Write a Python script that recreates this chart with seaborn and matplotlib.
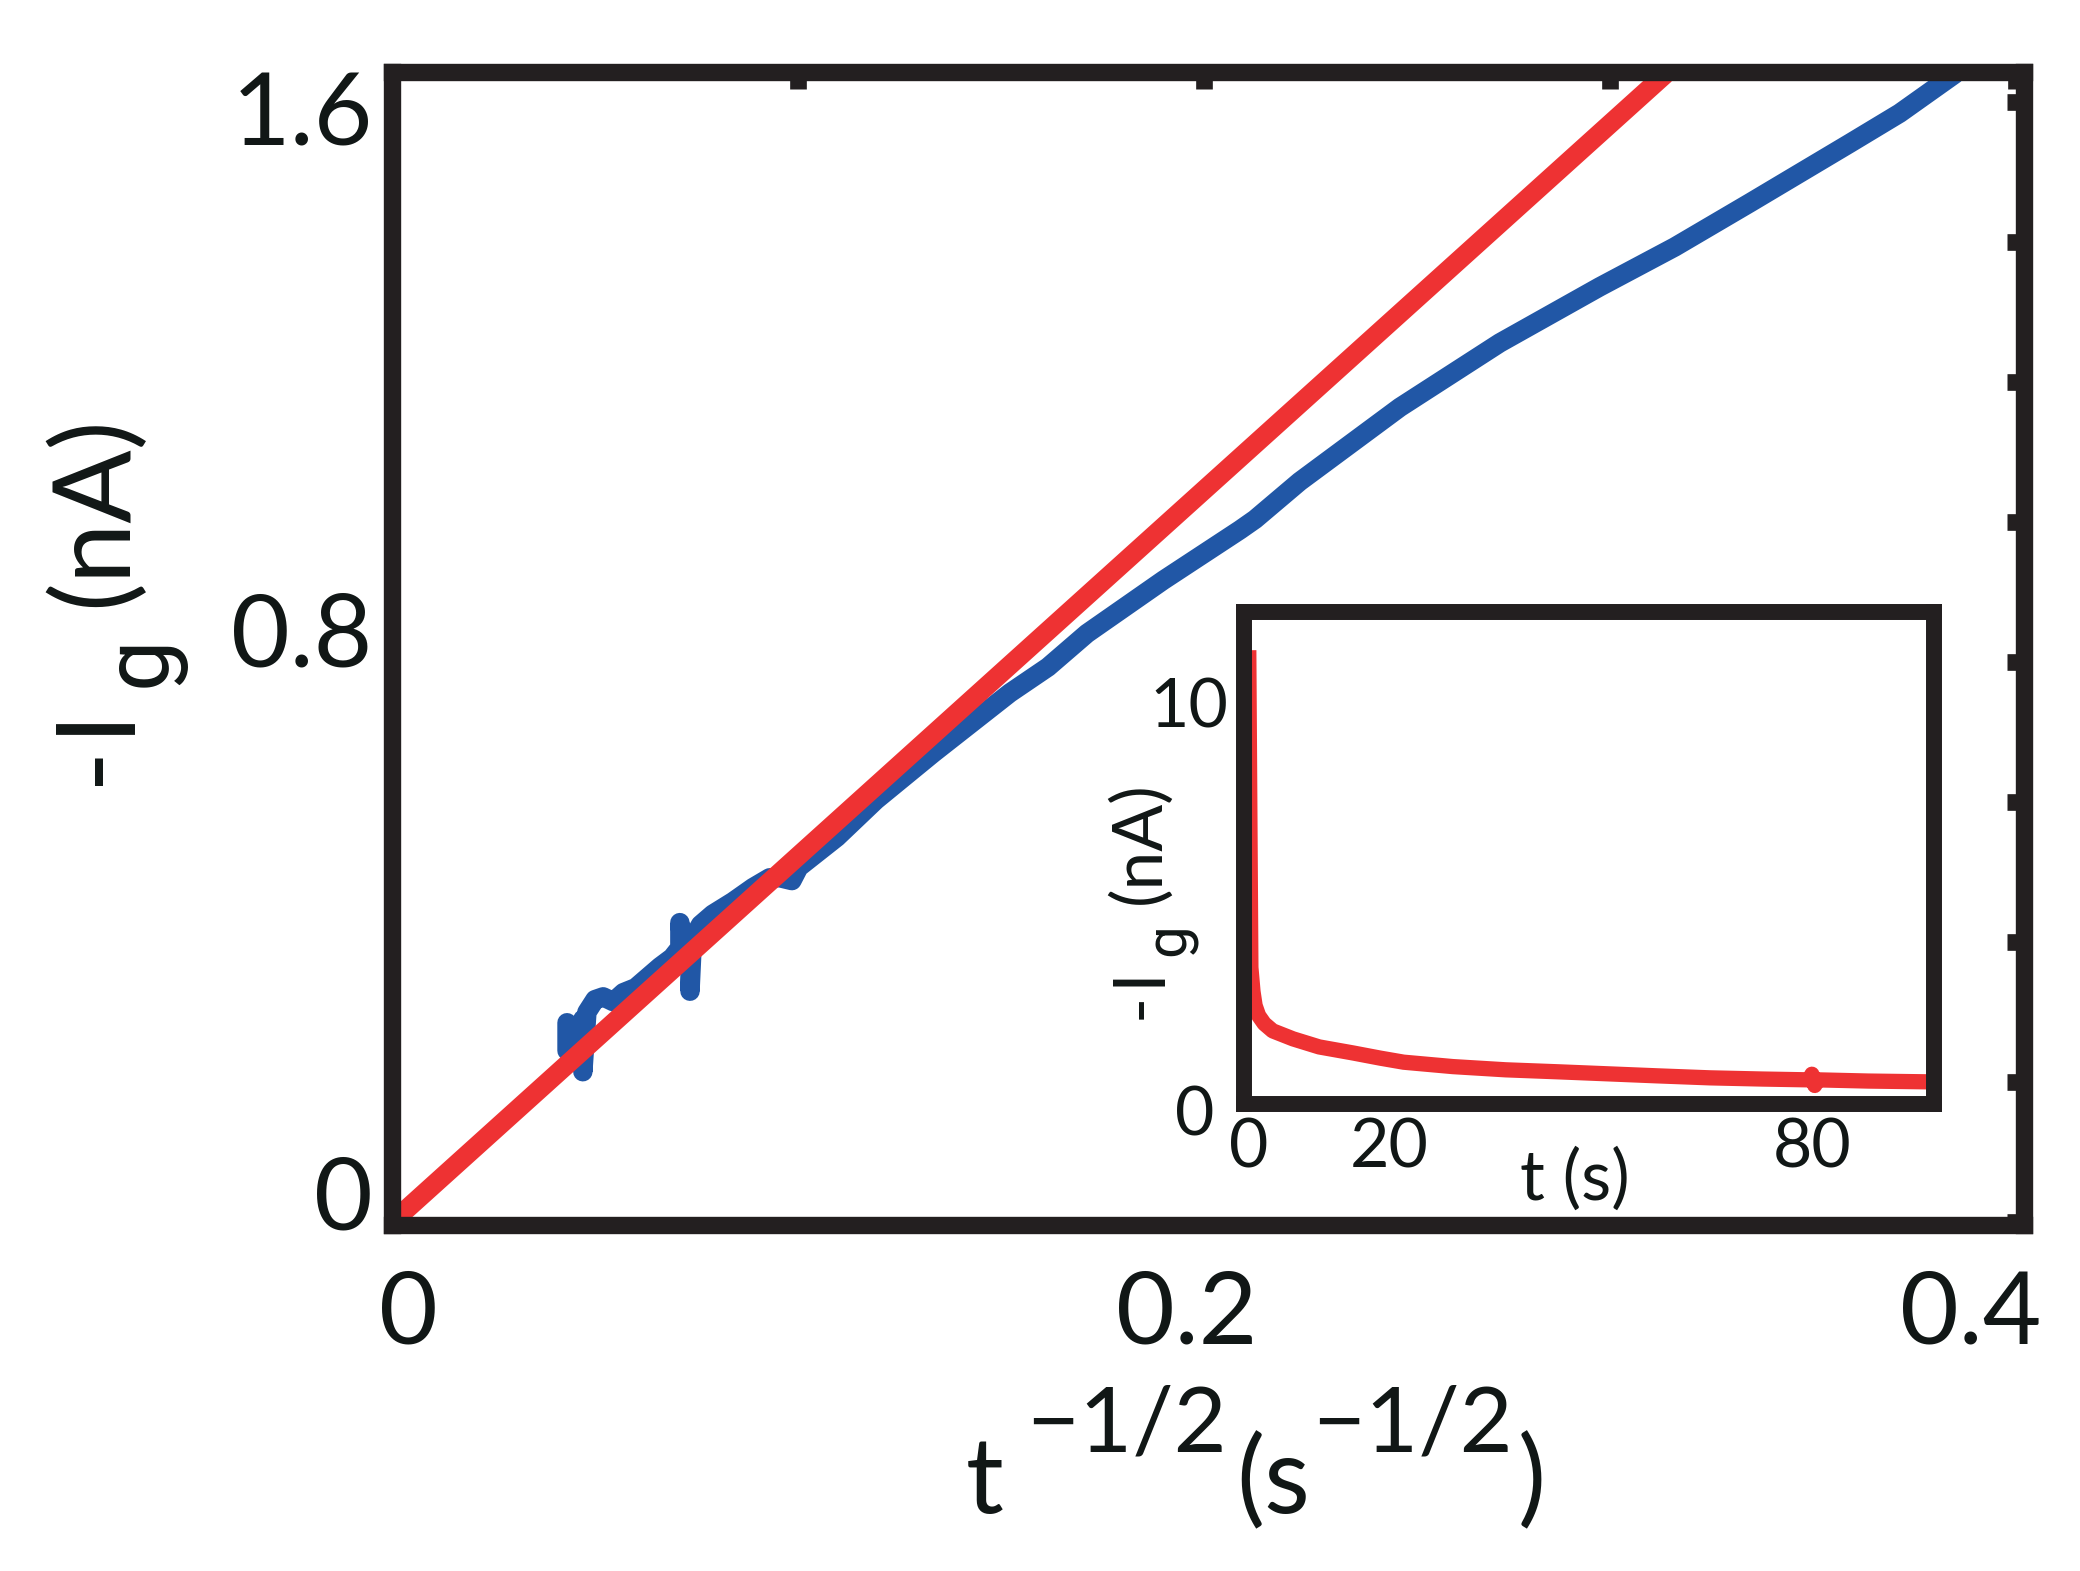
import matplotlib
matplotlib.use('Agg')
import matplotlib.pyplot as plt
import matplotlib.transforms as mtransforms
import seaborn as sns

# main panel: -Ig vs t^-1/2 (blue = data, red = linear fit)
x_blue = [0.0431, 0.0431, 0.0445, 0.0462, 0.0470, 0.0470, 0.0480, 0.0500, 0.0520, 0.0545,
          0.0570, 0.0600, 0.0630, 0.0660, 0.0690, 0.0709, 0.0709, 0.0715, 0.0725, 0.0734,
          0.0734, 0.0740, 0.0760, 0.0790, 0.0840, 0.0889, 0.0930, 0.0956, 0.0985, 0.1002,
          0.1096, 0.1192, 0.1333, 0.1522, 0.1616, 0.1712, 0.1900, 0.2089, 0.2126, 0.2236,
          0.2483, 0.2729, 0.2975, 0.3160, 0.3345, 0.3591, 0.3714, 0.3850]
y_blue = [0.285, 0.245, 0.262, 0.280, 0.290, 0.215, 0.300, 0.318, 0.322, 0.315,
          0.328, 0.335, 0.350, 0.365, 0.378, 0.392, 0.428, 0.395, 0.395, 0.398,
          0.330, 0.405, 0.425, 0.440, 0.458, 0.478, 0.492, 0.492, 0.488, 0.507,
          0.550, 0.603, 0.670, 0.756, 0.793, 0.841, 0.917, 0.989, 1.004, 1.058,
          1.164, 1.256, 1.336, 1.393, 1.456, 1.541, 1.584, 1.640]
x_fit = [0.0, 0.3135]
y_fit = [0.0, 1.639]

# inset: -Ig vs t
t_inset = [0.0, 0.3, 0.6, 0.9, 1.4, 2.2, 3.4, 6.3, 10, 14.8, 18.7, 22, 29, 36.5, 44, 51, 58,
           65.5, 73, 79.6, 80.0, 80.4, 80.8, 88, 96.7]
i_inset = [11.3, 3.4, 2.8, 2.45, 2.2, 2.0, 1.82, 1.62, 1.42, 1.27, 1.14, 1.04, 0.93, 0.85,
           0.80, 0.75, 0.70, 0.65, 0.62, 0.60, 0.74, 0.46, 0.60, 0.57, 0.55]

main_xticks = [0, 0.1, 0.2, 0.3, 0.4]
main_xlabels = ['0', '', '0.2', '', '0.4']
main_yticks = [0, 0.2, 0.4, 0.6, 0.8, 1.0, 1.2, 1.4, 1.6]
main_ylabels = ['0', '', '', '', '0.8', '', '', '', '1.6']
inset_xticks = [0, 20, 80]
inset_yticks = [0, 10]

red = '#ee3233'
blue = '#2157a6'
kcol = '#231f20'
tcol = '#111716'

sns.set_theme(style='white')
plt.rcParams['font.family'] = ['Lato', 'DejaVu Sans']

W, H = 2080, 1571
fig = plt.figure(figsize=(W / 100, H / 100), dpi=100)
fig.patch.set_facecolor('white')

def shift(lbl, dx, dy):
    # move a tick label by dx, dy pixels
    lbl.set_transform(lbl.get_transform() +
                      mtransforms.ScaledTranslation(dx / 100, dy / 100, fig.dpi_scale_trans))

def label_h(pieces, x0, yb):
    # horizontal label built from pieces (text, size, rise px, gap px); yb = baseline, from top
    r = fig.canvas.get_renderer()
    x = x0
    for s, size, rise, gap in pieces:
        x += gap
        t = fig.text(x / W, (H - yb + rise) / H, s, fontsize=size, color=tcol,
                     ha='left', va='baseline')
        x = t.get_window_extent(r).x1

def label_v(pieces, xb, y0):
    # label reading upwards; pieces (text, size, drop px, gap px, family); xb = baseline x, y0 = start
    r = fig.canvas.get_renderer()
    y = H - y0
    for s, size, drop, gap, fam in pieces:
        y += gap
        t = fig.text((xb + drop) / W, y / H, s, fontsize=size, color=tcol, rotation=90,
                     rotation_mode='anchor', ha='left', va='baseline', family=fam)
        y = t.get_window_extent(r).y1

# ---- main axes
ax = fig.add_axes([0.1885, 0.2202, 0.7845, 0.734])
sns.lineplot(x=x_blue, y=y_blue, sort=False, estimator=None, color=blue, lw=14, ax=ax)
sns.lineplot(x=x_fit, y=y_fit, sort=False, estimator=None, color=red, lw=14, ax=ax)
for ln in ax.lines:
    ln.set_solid_capstyle('round')
    ln.set_solid_joinstyle('round')

ax.set_xlim(0, 0.402)
ax.set_ylim(-0.004, 1.643)
ax.set_xticks(main_xticks)
ax.set_xticklabels(main_xlabels)
ax.set_yticks(main_yticks)
ax.set_yticklabels(main_ylabels)
for sp in ax.spines.values():
    sp.set_visible(True)
    sp.set_linewidth(12.5)
    sp.set_color(kcol)
ax.tick_params(direction='in', length=12.5, width=12, color=kcol, top=True, right=True,
               labelsize=73, labelcolor=tcol)
ax.tick_params(axis='x', pad=32)
ax.tick_params(axis='y', pad=14)

xl = ax.get_xticklabels()
shift(xl[0], 16, 0)
shift(xl[2], -17, 0)
shift(xl[4], -45, 0)
yl = ax.get_yticklabels()
shift(yl[0], 0, 30)
shift(yl[4], 0, 33)
shift(yl[8], 0, -6)

# ---- inset
axi = fig.add_axes([0.598, 0.2973, 0.332, 0.3131])
axi.set_facecolor('white')
sns.lineplot(x=t_inset, y=i_inset, sort=False, estimator=None, color=red, lw=11, ax=axi)
for ln in axi.lines:
    ln.set_solid_capstyle('butt')
    ln.set_solid_joinstyle('round')
axi.set_xlim(-0.7, 97.4)
axi.set_ylim(0, 12.25)
axi.set_xticks(inset_xticks)
axi.set_xticklabels([str(v) for v in inset_xticks])
axi.set_yticks(inset_yticks)
axi.set_yticklabels([str(v) for v in inset_yticks])
for sp in axi.spines.values():
    sp.set_visible(True)
    sp.set_linewidth(11.5)
    sp.set_color(kcol)
axi.tick_params(length=0, labelsize=49, labelcolor=tcol)
axi.tick_params(axis='x', pad=10)
axi.tick_params(axis='y', pad=11.5)
shift(axi.get_yticklabels()[0], -13, -7)

# ---- axis titles
label_h([('t', 76, 0, 0), ('\u22121/2', 66, 61, 22), ('(s', 76, 0, 10),
         ('\u22121/2', 66, 61, 2), (')', 76, 0, 5)], 966, 1513)
label_v([('-', 80, 0, 0, 'Lato'), ('I', 80, 0, 10, 'Lato'), ('g', 66, 40, 16, 'Roboto'),
         ('(nA)', 78, 0, 28, 'Lato')], 126, 785)
label_v([('-', 51, 0, 0, 'Lato'), ('I', 51, 0, 7, 'Lato'), ('g', 42, 25, 10, 'Roboto'),
         ('(nA)', 50, 0, 19, 'Lato')], 1160, 1019)
fig.text(1575 / W, (H - 1200) / H, 't (s)', fontsize=50, color=tcol, ha='center', va='baseline')

fig.savefig('out.png', dpi=100, facecolor='white')
